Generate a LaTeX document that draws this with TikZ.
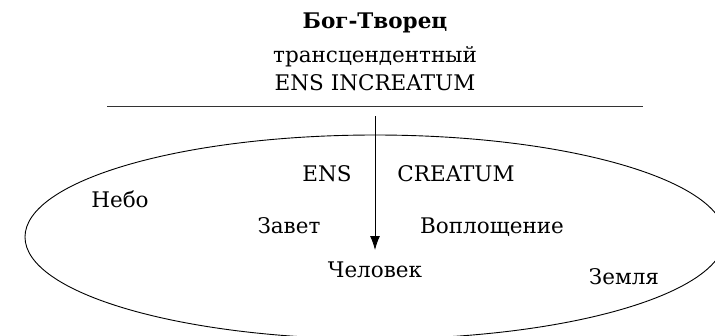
\documentclass[tikz,border=0pt]{standalone}
\usepackage{fontspec}
\setmainfont{DejaVu Serif}
\usetikzlibrary{arrows.meta}
\tikzset{lbl/.style={anchor=base, inner sep=0pt, font=\fontsize{21.5}{25}\selectfont}}
\begin{document}
\begin{tikzpicture}[x=1pt, y=-1pt]
\useasboundingbox (0,0) rectangle (715,335);
\draw[line width=0.9pt] (375,237) ellipse [x radius=350, y radius=102];
\node[lbl, font=\fontsize{21.5}{25}\selectfont\bfseries] (god) at (375,28) {Бог-Творец};
\node[lbl] (trans) at (375,62) {трансцендентный};
\node[lbl] (increatum) at (375,90) {ENS INCREATUM};
\coordinate (lineL) at (107,106);
\coordinate (lineR) at (643,106);
\draw[line width=1pt, black!80] (lineL) -- (lineR);
\coordinate (top) at (375,116);
\node[lbl] (ens) at (327,181) {ENS};
\node[lbl] (creatum) at (456,181) {CREATUM};
\node[lbl] (nebo) at (120,207) {Небо};
\node[lbl] (zavet) at (289,233) {Завет};
\node[lbl] (voplo) at (492,233) {Воплощение};
\node[lbl] (man) at (375,277) {Человек};
\node[lbl] (earth) at (624,284) {Земля};
\draw[-{Latex[length=14pt,width=10pt]}, line width=0.9pt] (top) -- (man.north |- 0,250);
\end{tikzpicture}
\end{document}
